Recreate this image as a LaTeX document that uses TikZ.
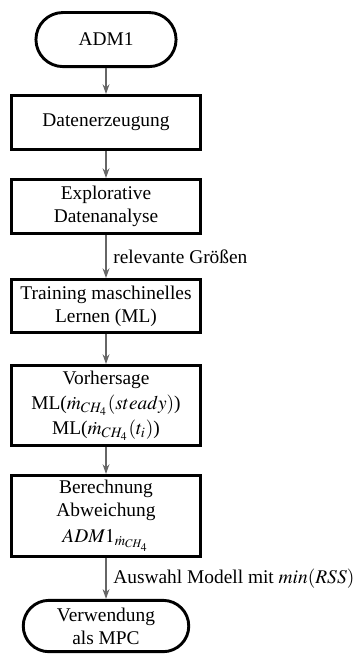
\documentclass[tikz,border=0pt]{standalone}
\usepackage{mathptmx}
\usepackage{fontspec}
\setmainfont{Liberation Serif}
\usetikzlibrary{arrows.meta,shapes.misc}

\begin{document}
\begin{tikzpicture}[
	box/.style={draw, line width=1.5pt, rectangle, align=center, minimum width=3.43cm, minimum height=0.98cm, inner sep=2pt},
	term/.style={draw, line width=1.5pt, rounded rectangle, align=center, minimum height=0.98cm, inner sep=2pt},
	flow/.style={draw=black!60, line width=0.9pt, -{Stealth[length=5pt,width=3.5pt]}}
	]
			%%%%% START %%%%%
			\useasboundingbox (0, 0) rectangle (6.433, 11.87);
			
			\node[term, minimum width=2.68cm] (adm) at (1.921, 11.153) {ADM1};
			\node[box] (daten) at (1.921, 9.649) {Datenerzeugung};
			\node[box] (explo) at (1.921, 8.127) {Explorative\\Datenanalyse};
			\node[box, minimum height=0.96cm] (train) at (1.921, 6.324) {Training maschinelles\\Lernen (ML)};
			\node[box, minimum height=1.45cm] (vorher) at (1.921, 4.521) {Vorhersage\\[1pt]ML($\dot{m}_{CH_4}(steady)$)\\[1pt]ML($\dot{m}_{CH_4}(t_i)$)};
			\node[box, minimum height=1.47cm] (abw) at (1.921, 2.519) {Berechnung\\Abweichung\\[1pt]$ADM1_{\dot{m}_{CH_4}}$};
			\node[term, minimum width=3.14cm, minimum height=0.93cm] (mpc) at (1.921, 0.525) {Verwendung\\als MPC};
			
			\draw[flow] (adm) -- (daten);
			\draw[flow] (daten) -- (explo);
			\draw[flow] (explo) -- node[right, black] {relevante Größen} (train);
			\draw[flow] (train) -- (vorher);
			\draw[flow] (vorher) -- (abw);
			\draw[flow] (abw) -- node[right, black] {Auswahl Modell mit $min(RSS)$} (mpc);
			%%%%% END %%%%%
\end{tikzpicture}
\end{document}
